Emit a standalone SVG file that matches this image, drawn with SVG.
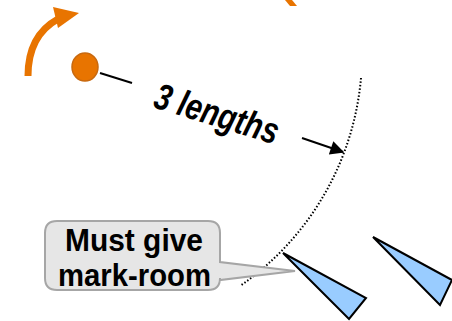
<svg xmlns="http://www.w3.org/2000/svg" width="452" height="321" viewBox="0 0 452 321">
<defs>
<style>
.orange{fill:#E87400}
.boat{fill:#99CCFF;stroke:#000;stroke-width:2;stroke-linejoin:miter}
.lbl{font-family:"Liberation Sans",Arial,sans-serif;font-weight:bold;fill:#000}
</style>
<marker id="ah" viewBox="0 0 10 10" refX="9" refY="5" markerWidth="8" markerHeight="7" orient="auto" markerUnits="strokeWidth">
<path d="M0,0 L10,5 L0,10 z" fill="#000"/>
</marker>
</defs>
<rect width="452" height="321" fill="#fff"/>
<g id="turn-arrow">
<path d="M28 76 C28 50 38 30 58 19" fill="none" stroke="#E87400" stroke-width="7"/>
<polygon class="orange" points="53,7 79,13 58,28"/>
</g>
<g id="top-arrow">
<polygon class="orange" points="285,0 292,0 297,6 290,6"/>
</g>
<g id="mark">
<ellipse cx="85" cy="67" rx="13" ry="14" fill="#E87400" stroke="#C8690F" stroke-width="1.5"/>
</g>
<g id="zone">
<path d="M361 78 A283 283 0 0 1 240 286" fill="none" stroke="#000" stroke-width="2" stroke-dasharray="1.5 2"/>
</g>
<g id="connectors">
<line x1="100" y1="73" x2="132" y2="83" stroke="#000" stroke-width="2"/>
<line x1="302" y1="138" x2="343" y2="152" stroke="#000" stroke-width="2" marker-end="url(#ah)"/>
</g>
<g id="label-3-lengths">
<text class="lbl" font-style="italic" font-size="37" transform="translate(152 107) rotate(17)" textLength="128" lengthAdjust="spacingAndGlyphs">3 lengths</text>
</g>
<g id="callout">
<path d="M57 221 H208 Q220 221 220 233 V262 L295 271 L220 280 V278 Q220 290 208 290 H57 Q45 290 45 278 V233 Q45 221 57 221 Z" fill="#E6E6E6" stroke="#A6A6A6" stroke-width="2"/>
<text class="lbl" font-size="31" x="65" y="251" textLength="138" lengthAdjust="spacingAndGlyphs">Must give</text>
<text class="lbl" font-size="31" x="58" y="286" textLength="153" lengthAdjust="spacingAndGlyphs">mark-room</text>
</g>
<g id="boat1">
<polygon class="boat" points="283,253 366,298 349,319"/>
</g>
<g id="boat2">
<polygon class="boat" points="373,237 452,280 440,305"/>
</g>
</svg>
